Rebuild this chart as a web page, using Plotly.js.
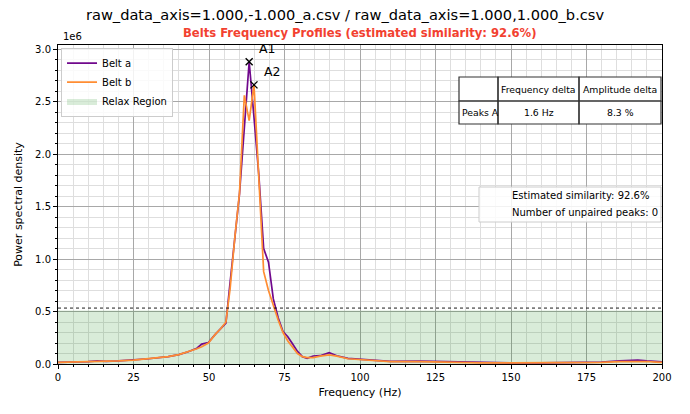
<!DOCTYPE html>
<html>
<head>
<meta charset="utf-8">
<script src="https://cdn.plot.ly/plotly-3.0.1.min.js"></script>
<style>html,body{margin:0;padding:0;background:#fff;}#chart{width:690px;height:414px;}</style>
</head>
<body>
<div id="chart"></div>
<script>
// ---- Data (PSD values in units of 1e6) ----
const freqs = [0, 5, 10, 13, 16, 20, 25, 30, 36.5, 40, 43.1, 46, 47.6, 49.8, 52, 54, 55.6, 57, 58.6, 60.1, 61.7, 63.3, 64.9, 66.5, 68.1, 69.7, 71.3, 72.9, 74.5, 76.1, 77.7, 79.3, 80.9, 82.5, 84.5, 86.8, 89.8, 92.3, 96, 100, 105, 110, 120, 130, 140, 150, 160, 170, 176, 180, 186, 189, 192, 195, 198, 200];
const beltA = [0.016, 0.018, 0.022, 0.030, 0.025, 0.030, 0.037, 0.050, 0.070, 0.090, 0.117, 0.150, 0.190, 0.205, 0.280, 0.340, 0.390, 0.780, 1.220, 1.620, 2.250, 2.880, 2.350, 1.800, 1.100, 0.970, 0.620, 0.440, 0.310, 0.260, 0.190, 0.120, 0.070, 0.055, 0.076, 0.079, 0.108, 0.079, 0.054, 0.045, 0.033, 0.025, 0.027, 0.020, 0.012, 0.011, 0.011, 0.012, 0.013, 0.018, 0.031, 0.033, 0.038, 0.030, 0.025, 0.020];
const beltB = [0.016, 0.018, 0.022, 0.025, 0.026, 0.030, 0.037, 0.050, 0.070, 0.090, 0.117, 0.145, 0.165, 0.200, 0.280, 0.340, 0.400, 0.720, 1.220, 1.630, 2.560, 2.320, 2.660, 1.750, 0.880, 0.700, 0.550, 0.420, 0.300, 0.220, 0.160, 0.100, 0.070, 0.060, 0.060, 0.075, 0.086, 0.075, 0.050, 0.040, 0.030, 0.022, 0.022, 0.015, 0.011, 0.010, 0.010, 0.011, 0.012, 0.015, 0.022, 0.025, 0.026, 0.024, 0.018, 0.015];
const seriesNames = ["Belt a", "Belt b"];
const relaxName = "Relax Region";
const relaxTop = 0.51;
const thresholdLine = 0.533;
const peakLabels = ["A1", "A2"];
const peakIndexA = 21;
const peakIndexB = 22;
const tableHeader = ["", "Frequency delta", "Amplitude delta"];
const tableRow = ["Peaks A", "1.6 Hz", "8.3 %"];
const infoLines = ["Estimated similarity: 92.6%", "Number of unpaired peaks: 0"];
const mainTitle = "raw_data_axis=1.000,-1.000_a.csv / raw_data_axis=1.000,1.000_b.csv";
const subTitle = "Belts Frequency Profiles (estimated similarity: 92.6%)";
const xTitle = "Frequency (Hz)";
const yTitle = "Power spectral density";
const yOffsetText = "1e6";

// ---- Layout helpers (pixel -> paper) ----
const L = 58, R = 662, T = 45, B = 364;
const xp = px => (px - L) / (R - L);
const yp = py => (B - py) / (B - T);
const FONT = "DejaVu Sans, sans-serif";
const PURPLE = "#70088C", ORANGE = "#FF8D32", RED = "#F24130";

const traces = [
  {x: freqs, y: freqs.map(() => relaxTop), type: "scatter", mode: "lines", fill: "tozeroy",
   fillcolor: "rgba(0,128,0,0.15)", line: {width: 0, color: "rgba(0,128,0,0.15)"},
   name: relaxName, legendrank: 3, hoverinfo: "skip"},
  {x: freqs, y: beltA, type: "scatter", mode: "lines", line: {color: PURPLE, width: 1.7},
   name: seriesNames[0], legendrank: 1},
  {x: freqs, y: beltB, type: "scatter", mode: "lines", line: {color: ORANGE, width: 1.7},
   name: seriesNames[1], legendrank: 2},
  {x: [freqs[peakIndexA], freqs[peakIndexB]], y: [beltA[peakIndexA], beltB[peakIndexB]],
   type: "scatter", mode: "markers", showlegend: false,
   marker: {symbol: "x-thin-open", size: 7, color: "black", line: {width: 1.4, color: "black"}}}
];

const shapes = [
  {type: "line", xref: "paper", yref: "y", x0: 0, x1: 1, y0: thresholdLine, y1: thresholdLine,
   line: {color: "black", width: 0.9, dash: "dot"}}
];
const annotations = [
  {xref: "paper", yref: "paper", x: 0.005, y: 1, xanchor: "left", yanchor: "bottom", yshift: 1,
   text: yOffsetText, showarrow: false, font: {family: FONT, size: 10, color: "black"}},
  {xref: "paper", yref: "paper", x: 0.5, y: yp(33), xanchor: "center", yanchor: "middle",
   text: "<b>" + subTitle + "</b>", showarrow: false, font: {family: FONT, size: 11.6, color: RED}},
  {xref: "x", yref: "y", x: freqs[peakIndexA], y: beltA[peakIndexA], xanchor: "left", yanchor: "bottom",
   xshift: 8, yshift: 4, text: peakLabels[0], showarrow: false, font: {family: FONT, size: 12.5, color: "black"}},
  {xref: "x", yref: "y", x: freqs[peakIndexB], y: beltB[peakIndexB], xanchor: "left", yanchor: "bottom",
   xshift: 8, yshift: 4, text: peakLabels[1], showarrow: false, font: {family: FONT, size: 12.5, color: "black"}}
];

// table
const colX = [459, 498, 579, 661];
const rowY = [77, 101, 124];
shapes.push({type: "rect", xref: "paper", yref: "paper", x0: xp(colX[0]), x1: xp(colX[3]),
  y0: yp(rowY[2]), y1: yp(rowY[0]), fillcolor: "white", line: {width: 0}, layer: "above"});
for (let c = 0; c < 3; c++) {
  for (let r = 0; r < 2; r++) {
    shapes.push({type: "rect", xref: "paper", yref: "paper", x0: xp(colX[c]), x1: xp(colX[c + 1]),
      y0: yp(rowY[r + 1]), y1: yp(rowY[r]), line: {color: "#333", width: 1.2}, layer: "above"});
    const txt = r === 0 ? tableHeader[c] : tableRow[c];
    const left = (c === 0);
    annotations.push({xref: "paper", yref: "paper",
      x: left ? xp(colX[c] + 0.5) : xp((colX[c] + colX[c + 1]) / 2),
      y: yp((rowY[r] + rowY[r + 1]) / 2), xanchor: left ? "left" : "center", yanchor: "middle",
      text: txt, showarrow: false, font: {family: FONT, size: 9.3, color: "black"}});
  }
}

// info box
shapes.push({type: "rect", xref: "paper", yref: "paper", x0: xp(479), x1: xp(661), y0: yp(222), y1: yp(187),
  fillcolor: "rgba(255,255,255,0.85)", line: {color: "#cccccc", width: 1}, layer: "above"});
infoLines.forEach((t, i) => {
  annotations.push({xref: "paper", yref: "paper", x: xp(510), y: yp(195.5 + i * 16.5), xanchor: "left", yanchor: "middle",
    text: t, showarrow: false, font: {family: FONT, size: 10, color: "black"}});
});

const axisCommon = {
  showline: true, mirror: true, linecolor: "black", linewidth: 1,
  ticks: "outside", ticklen: 4, tickcolor: "black", tickwidth: 1,
  showgrid: true, gridcolor: "#a8a8a8", gridwidth: 1, zeroline: false,
  tickfont: {family: FONT, size: 10, color: "black"}
};

const layout = {
  width: 690, height: 414,
  margin: {l: L, r: 690 - R, t: T, b: 414 - B},
  paper_bgcolor: "white", plot_bgcolor: "white",
  font: {family: FONT, color: "black"},
  title: {text: mainTitle, x: 0.5, xref: "container", xanchor: "center", y: 1 - 15 / 414, yref: "container",
    yanchor: "middle", font: {family: FONT, size: 14.6, color: "black"}},
  xaxis: Object.assign({}, axisCommon, {range: [0, 200], dtick: 25, tick0: 0,
    minor: {dtick: 5, showgrid: true, gridcolor: "#dedede", gridwidth: 1, ticks: "outside", ticklen: 2, tickcolor: "black"},
    title: {text: xTitle, font: {family: FONT, size: 11, color: "black"}, standoff: 6}}),
  yaxis: Object.assign({}, axisCommon, {range: [0, 3.04], dtick: 0.5, tick0: 0, tickformat: ".1f",
    minor: {dtick: 0.1, showgrid: true, gridcolor: "#dedede", gridwidth: 1, ticks: "outside", ticklen: 2, tickcolor: "black"},
    title: {text: yTitle, font: {family: FONT, size: 11, color: "black"}, standoff: 10}}),
  legend: {x: 0.005, y: 0.992, xanchor: "left", yanchor: "top", bgcolor: "rgba(255,255,255,0.85)",
    bordercolor: "#cccccc", borderwidth: 1, font: {family: FONT, size: 10, color: "black"}, tracegroupgap: 0,
    itemwidth: 30},
  shapes: shapes,
  annotations: annotations,
  showlegend: true
};

Plotly.newPlot("chart", traces, layout, {displayModeBar: false, staticPlot: true});
</script>
</body>
</html>
